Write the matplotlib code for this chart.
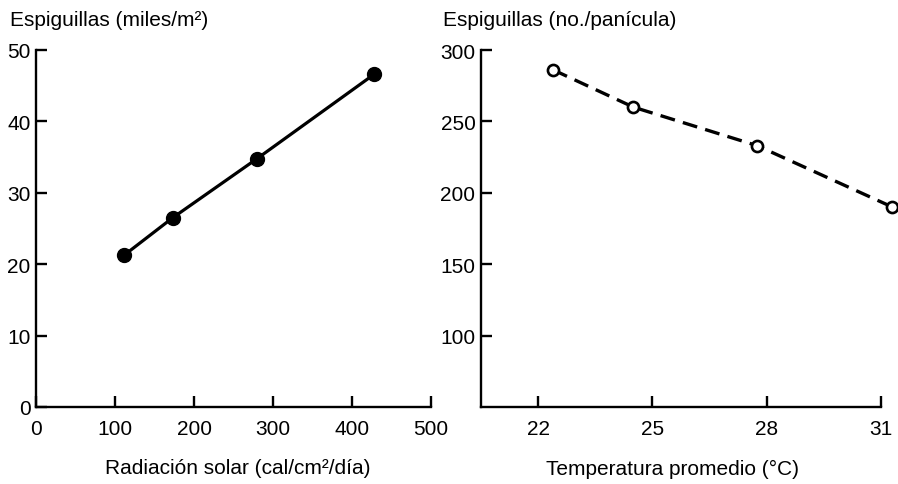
import matplotlib
matplotlib.use("Agg")
import matplotlib.pyplot as plt

plt.rcParams['font.family'] = ['Liberation Sans', 'DejaVu Sans']

# Left panel data
radiacion = [112, 173, 280, 428]
espig_m2 = [21.3, 26.5, 34.8, 46.6]
left_xticks = [0, 100, 200, 300, 400, 500]
left_yticks = [0, 10, 20, 30, 40, 50]

# Right panel data
temperatura = [22.4, 24.5, 27.75, 31.3]
espig_pan = [286, 260, 233, 190]
right_xticks = [22, 25, 28, 31]
right_yticks = [100, 150, 200, 250, 300]

W, H = 898, 485
fig = plt.figure(figsize=(W / 100, H / 100), dpi=100)

def px_axes(x0, y0, x1, y1):
    return fig.add_axes([x0 / W, 1 - y1 / H, (x1 - x0) / W, (y1 - y0) / H])

fs = 15
lw_sp = 1.7

def style(ax):
    for s in ['top', 'right']:
        ax.spines[s].set_visible(False)
    for s in ['left', 'bottom']:
        ax.spines[s].set_linewidth(lw_sp)
    ax.tick_params(direction='in', length=8, width=lw_sp, labelsize=fs, pad=4)
    ax.tick_params(axis='x', pad=9)

# Left
ax1 = px_axes(36, 51, 431, 408)
ax1.plot(radiacion, espig_m2, '-', color='black', lw=2.3, marker='o',
         ms=10, mfc='black', mec='black', clip_on=False)
ax1.set_xlim(0, 500)
ax1.set_ylim(0, 50)
ax1.set_xticks(left_xticks)
ax1.set_yticks(left_yticks)
style(ax1)

# Right
ax2 = px_axes(481, 51, 881, 408)
ax2.plot(temperatura, espig_pan, '--', color='black', lw=2.4, dashes=(4.5, 2.5),
         marker='o', ms=8, mfc='white', mec='black', mew=1.9, clip_on=False)
ax2.set_xlim(20.5, 31)
ax2.set_ylim(50, 300)
ax2.set_xticks(right_xticks)
ax2.set_yticks(right_yticks)
style(ax2)

fig.text(10 / W, 1 - 20 / H, 'Espiguillas (miles/m²)', fontsize=fs, va='center', ha='left')
fig.text(443 / W, 1 - 20 / H, 'Espiguillas (no./panícula)', fontsize=fs, va='center', ha='left')
fig.text(238 / W, 1 - 469 / H, 'Radiación solar (cal/cm²/día)', fontsize=fs, va='center', ha='center')
fig.text(673 / W, 1 - 469 / H, 'Temperatura promedio (°C)', fontsize=fs, va='center', ha='center')

fig.savefig('out.png', dpi=100)
